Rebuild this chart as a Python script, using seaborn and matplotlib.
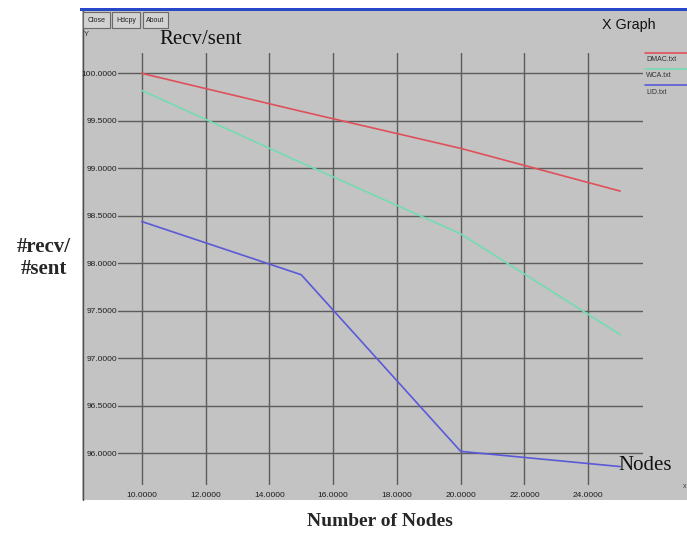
import numpy as np
import pandas as pd
import matplotlib
matplotlib.use('Agg')
import matplotlib.pyplot as plt
import seaborn as sns
from matplotlib.patches import Rectangle
from matplotlib.lines import Line2D

# values
nodes = [10, 15, 20, 25]
dmac = [100.0, 99.6, 99.21, 98.76]
wca = [99.82, 99.06, 98.31, 97.25]
lid = [98.44, 97.88, 96.02, 95.86]
series_names = ['DMAC.txt', 'WCA.txt', 'LID.txt']
x_ticks = [10, 12, 14, 16, 18, 20, 22, 24]
y_ticks = [96.0, 96.5, 97.0, 97.5, 98.0, 98.5, 99.0, 99.5, 100.0]

df = pd.DataFrame({
    'nodes': nodes * 3,
    'ratio': dmac + wca + lid,
    'file': [n for n in series_names for _ in nodes],
})
colors = {'DMAC.txt': '#e0505a', 'WCA.txt': '#74dcb0', 'LID.txt': '#5a5ad8'}

W, H = 687, 542


def fx(px):
    return px / W


def fy(py):
    return 1 - py / H


sns.set_style('white')
plt.rcParams['font.family'] = ['Liberation Sans', 'DejaVu Sans']

fig = plt.figure(figsize=(6.87, 5.42), dpi=100)

# gray xgraph panel + window chrome
fig.patches.append(Rectangle((fx(82), fy(500)), 1 - fx(82), fy(10) - fy(500),
                             transform=fig.transFigure, facecolor='#c3c3c3',
                             edgecolor='none', zorder=-2))
fig.patches.append(Rectangle((fx(80), fy(10.5)), 1 - fx(80), fy(8) - fy(10.5),
                             transform=fig.transFigure, facecolor='#2848c8',
                             edgecolor='none', zorder=-1))
fig.lines.append(Line2D([fx(82.5), fx(82.5)], [fy(10), fy(500)],
                        transform=fig.transFigure, color='#505050', lw=1, zorder=-1))

for label, x0, x1 in [('Close', 83, 110), ('Hdcpy', 112, 140), ('About', 142.5, 167.5)]:
    fig.patches.append(Rectangle((fx(x0), fy(27.5)), fx(x1) - fx(x0), fy(12.5) - fy(27.5),
                                 transform=fig.transFigure, facecolor='#d2d2d2',
                                 edgecolor='#6a6a6a', lw=0.8, zorder=2))
    fig.text(fx((x0 + x1) / 2), fy(20), label, fontsize=5, ha='center', va='center',
             color='#202020', zorder=3)

fig.text(fx(84), fy(35), 'Y', fontsize=5.5, ha='left', va='center', color='#303030')
fig.text(fx(159), fy(40), 'Recv/sent', fontsize=15, family='Liberation Serif',
         ha='left', va='center', color='#111111')
fig.text(fx(602), fy(25), 'X Graph', fontsize=10.3, ha='left', va='center', color='#111111')
fig.text(fx(683), fy(487), 'x', fontsize=5, ha='left', va='center', color='#404040')

# legend, xgraph style: line above the file name
for i, name in enumerate(series_names):
    ly = 52.7 + i * 16.2
    fig.lines.append(Line2D([fx(645), 1], [fy(ly), fy(ly)], transform=fig.transFigure,
                            color=colors[name], lw=1.2))
    fig.text(fx(646), fy(ly + 7), name, fontsize=5, ha='left', va='center', color='#303030')

ax = fig.add_axes([fx(118), fy(485), fx(643) - fx(118), fy(53) - fy(485)])
ax.set_zorder(4)
ax.set_facecolor('none')
sns.lineplot(data=df, x='nodes', y='ratio', hue='file', palette=colors,
             linewidth=1.2, legend=False, ax=ax, zorder=3)

ax.set_xlim(9.257, 25.715)
ax.set_ylim(95.666, 100.214)
ax.set_xticks(x_ticks)
ax.set_xticklabels([f'{v:.4f}' for v in x_ticks])
ax.set_yticks(y_ticks)
ax.set_yticklabels([f'{v:.4f}' for v in y_ticks])
ax.tick_params(length=0, labelsize=6, colors='#1e1e1e')
ax.tick_params(axis='x', pad=4.7)
ax.tick_params(axis='y', pad=0.7)
ax.grid(True, color='#5c5c5c', linewidth=1.0)
ax.set_axisbelow(True)
for s in ax.spines.values():
    s.set_visible(False)
ax.set_xlabel('')
ax.set_ylabel('')

fig.text(fx(618), fy(465), 'Nodes', fontsize=15, family='Liberation Serif',
         ha='left', va='center', color='#111111', zorder=5)

# outer labels of the figure
fig.text(fx(44), fy(258), '#recv/\n#sent', fontsize=15, fontweight='bold',
         family='Liberation Serif', ha='center', va='center', linespacing=1.1)
fig.text(fx(380), fy(522), 'Number of Nodes', fontsize=14, fontweight='bold',
         family='Liberation Serif', ha='center', va='center')

fig.savefig('out.png', dpi=100)
